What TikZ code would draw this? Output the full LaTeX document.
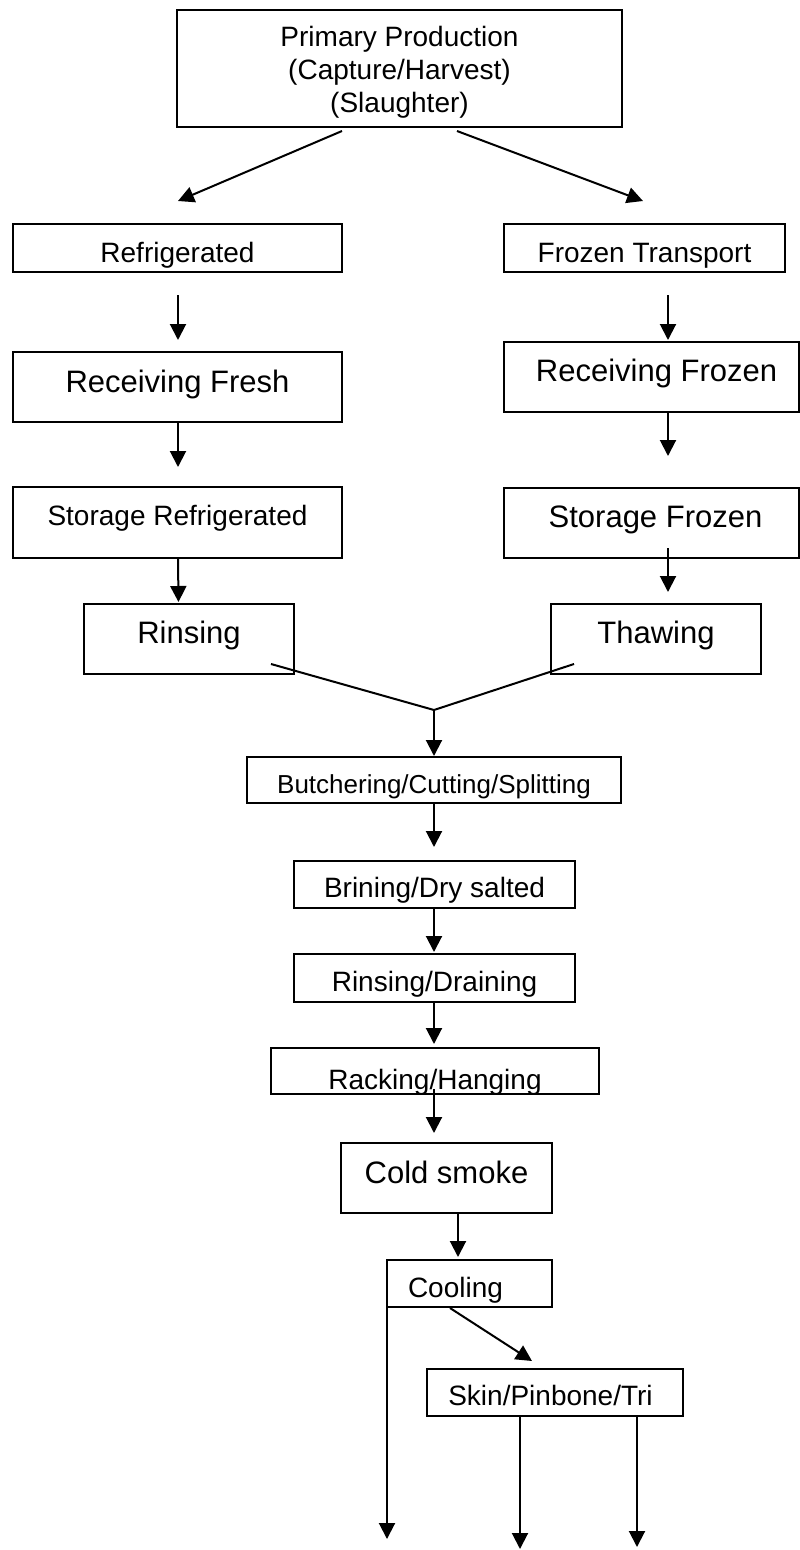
\documentclass[tikz,border=0pt]{standalone}
\usepackage{fontspec}
\setmainfont{Liberation Sans}
\usetikzlibrary{arrows.meta,calc}
\begin{document}
\begin{tikzpicture}[x=1pt,y=-1pt,
  box/.style={draw, line width=2pt, inner xsep=0pt, inner ysep=0pt, anchor=base},
  f26/.style={font=\fontsize{26}{31}\selectfont},
  f28/.style={font=\fontsize{28}{33}\selectfont},
  f31/.style={font=\fontsize{31}{36}\selectfont},
  flow/.style={line width=2pt, -{Triangle[length=16pt,width=16pt]}},
  merge/.style={line width=2pt}]
\useasboundingbox (0,0) rectangle (800,1550);

% process steps (placed by text baseline; text height/depth give the box edges)
\node[box, f28, align=center, minimum width=445pt, text height=102pt, text depth=15pt]
  (prod) at (399.5,112) {Primary Production\\(Capture/Harvest)\\(Slaughter)};
\node[box, f28, minimum width=329pt, text height=38pt, text depth=10pt] (refr) at (177.5,262) {Refrigerated};
\node[box, f28, minimum width=281pt, text height=38pt, text depth=10pt] (froT) at (644.5,262) {Frozen Transport};
\node[box, f31, minimum width=329pt, text height=40pt, text depth=30pt] (recF) at (177.5,392) {Receiving Fresh};
\node[box, f31, minimum width=295pt, text height=39pt, text depth=31pt] (recZ) at (651.5,381) {\hspace*{10pt}Receiving Frozen};
\node[box, f28, minimum width=329pt, text height=38pt, text depth=33pt] (stoR) at (177.5,525) {Storage Refrigerated};
\node[box, f31, minimum width=295pt, text height=39pt, text depth=31pt] (stoZ) at (651.5,527) {\hspace*{8pt}Storage Frozen};
\node[box, f31, minimum width=210pt, text height=39pt, text depth=31pt] (rins) at (189,643) {Rinsing};
\node[box, f31, minimum width=210pt, text height=39pt, text depth=31pt] (thaw) at (656,643) {Thawing};
\node[box, f26, minimum width=374pt, text height=36pt, text depth=10pt] (butc) at (434,793) {Butchering/Cutting/Splitting};
\node[box, f28, minimum width=281pt, text height=36pt, text depth=11pt] (brin) at (434.5,897) {Brining/Dry salted};
\node[box, f28, minimum width=281pt, text height=37pt, text depth=11pt] (rdra) at (434.5,991) {Rinsing/Draining};
\node[box, f28, minimum width=328pt, text height=41pt, text depth=5pt] (rack) at (435,1089) {Racking/Hanging};
\node[box, f31, minimum width=211pt, text height=40pt, text depth=30pt] (cold) at (446.5,1183) {Cold smoke};
\node[box, f28, minimum width=165pt, text height=37pt, text depth=10pt] (cool) at (469.5,1297) {Cooling\hspace*{28pt}};
\node[box, f28, minimum width=256pt, text height=36pt, text depth=11pt] (skin) at (555,1405) {Skin/Pinbone/Tri\hspace*{9pt}};

% connectors
\draw[flow] ($(prod.south)+(-57.5,3)$) -- ($(refr.north)+(0.5,-22)$);
\draw[flow] ($(prod.south)+(57.5,3)$) -- ($(froT.north)+(-1.5,-22)$);
\draw[flow] ($(refr.south)+(0.5,22)$) -- ($(recF.north)+(0.5,-11)$);
\draw[flow] ($(froT.south)+(23.5,22)$) -- ($(recZ.north)+(16.5,-1)$);
\draw[flow] ($(recF.south)+(0.5,0)$) -- ($(stoR.north)+(0.5,-19)$);
\draw[flow] ($(recZ.south)+(16.5,0)$) -- ($(stoZ.north)+(16.5,-31)$);
\draw[flow] ($(stoR.south)+(0.5,0)$) -- ($(rins.north)+(-10.5,-1)$);
\draw[flow] ($(stoZ.south)+(16.5,-11)$) -- ($(thaw.north)+(12,-11)$);
\coordinate (meet) at (434,710);
\draw[merge] ($(rins.south east)+(-24,-11)$) -- (meet) -- ($(thaw.south west)+(24,-11)$);
\draw[flow] (meet) -- (butc.north);
\draw[flow] (butc.south) -- ($(brin.north)+(-0.5,-13)$);
\draw[flow] ($(brin.south)+(-0.5,0)$) -- ($(rdra.north)+(-0.5,-1)$);
\draw[flow] ($(rdra.south)+(-0.5,0)$) -- ($(rack.north)+(-1,-3)$);
\draw[flow] ($(rack.south)+(-1,-6)$) -- ($(cold.north)+(-12.5,-9)$);
\draw[flow] ($(cold.south)+(11.5,0)$) -- ($(cool.north)+(-11.5,-2)$);
\coordinate (outA) at (387,1539);
\draw[flow] ($(cool.south west)+(1,-1)$) -- (outA);
\draw[flow] ($(cool.south)+(-19.5,0)$) -- ($(skin.north)+(-23,-7)$);
\coordinate (outB) at (520,1549);
\coordinate (outC) at (637,1547);
\draw[flow] ($(skin.south)+(-35,0)$) -- (outB);
\draw[flow] ($(skin.south)+(82,0)$) -- (outC);
\end{tikzpicture}
\end{document}
